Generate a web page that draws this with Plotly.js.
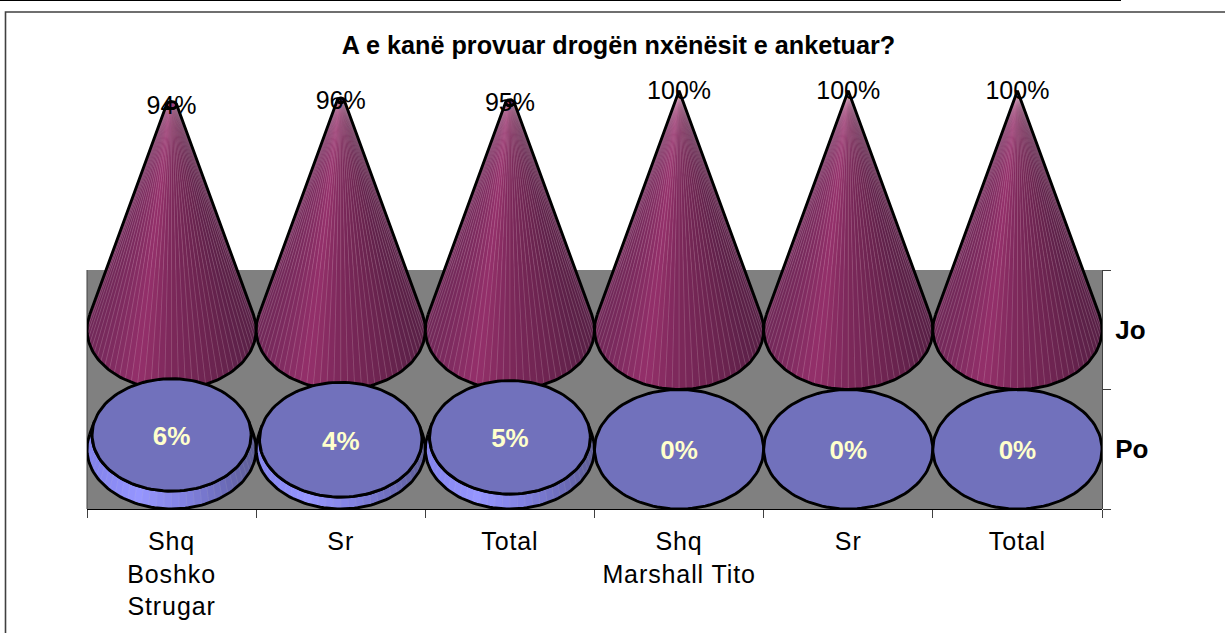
<!DOCTYPE html>
<html><head><meta charset="utf-8">
<script src="https://cdn.plot.ly/plotly-3.0.1.min.js"></script>
<style>html,body{margin:0;padding:0;background:#fff;overflow:hidden}
.xtick text{letter-spacing:0.9px}</style>
</head><body><div id="chart" style="width:1225px;height:633px"></div>
<script>
var chartTitle = 'A e kanë provuar drogën nxënësit e anketuar?';
var categoryLabels = ['Shq<br>Boshko<br>Strugar','Sr','Total','Shq<br>Marshall Tito','Sr','Total'];
var seriesLabels = ['Po','Jo'];
var poValues = [6,4,5,0,0,0];
var joValues = [94,96,95,100,100,100];

// Geometry of the 3D stack, in axis units: every band is 50 units tall, full cone is 100 tall.
var BASE_PO = 25, BASE_JO = 75, RY = 25, RX = 0.5, H = 100;
var ALPHA = Math.asin(RY / H);
var FACETS_JO = 44, FACETS_PO = 40, OUTLINE = 2.9;
var LABEL_DROP_JO = 1, LABEL_DROP_PO = 1.4;

function lerpColor(stops, t) {
  for (var i = 1; i < stops.length; i++) {
    if (t <= stops[i][0]) {
      var a = stops[i-1], b = stops[i], f = (t - a[0]) / (b[0] - a[0]);
      return 'rgb(' + [1,2,3].map(function(k){ return Math.round(a[k] + (b[k]-a[k])*f); }).join(',') + ')';
    }
  }
  var l = stops[stops.length-1];
  return 'rgb(' + l[1] + ',' + l[2] + ',' + l[3] + ')';
}
var joStops = [[0,112,40,88],[0.3,148,48,106],[0.5,124,40,90],[0.75,108,36,80],[1,88,32,70]];
var poStops = [[0,130,130,235],[0.3,150,150,255],[0.6,128,128,222],[0.85,105,105,180],[1,95,95,150]];

// point of an ellipse; theta in (0,pi) is the front (lower) half
function pt(cx, cy, s, th) { return [cx + RX*s*Math.cos(th), cy - RY*s*Math.sin(th)]; }

var traces = [];
function drawSolid(cx, base, v, n, stops, topFill, seam) {
  var sTop = 1 - v/H, yTop = base + v;
  if (v > 0) {
    var th0 = -ALPHA, th1 = Math.PI + ALPHA;
    var seamX = [], seamY = [];
    for (var i = 0; i < n; i++) {
      var a = th1 - (th1-th0)*i/n, b = th1 - (th1-th0)*(i+1)/n;
      var p1 = pt(cx, base, 1, a), p2 = pt(cx, base, 1, b), p3 = pt(cx, yTop, sTop, b), p4 = pt(cx, yTop, sTop, a);
      var c = lerpColor(stops, (1 + Math.cos((a+b)/2))/2);
      traces.push({type:'scatter', mode:'lines', x:[p1[0],p2[0],p3[0],p4[0],p1[0]], y:[p1[1],p2[1],p3[1],p4[1],p1[1]],
        fill:'toself', fillcolor:c, line:{color:c,width:0.6}, hoverinfo:'skip', showlegend:false});
      if (i > 0) { seamX.push(p1[0],p4[0],null); seamY.push(p1[1],p4[1],null); }
    }
    traces.push({type:'scatter', mode:'lines', x:seamX, y:seamY, line:{color:seam,width:0.8}, hoverinfo:'skip', showlegend:false});
    var ox = [], oy = [], m = 90, k, q;
    for (k = 0; k <= m; k++) { q = pt(cx, base, 1, th1-(th1-th0)*k/m); ox.push(q[0]); oy.push(q[1]); }
    if (sTop > 0) for (k = 0; k <= m; k++) { q = pt(cx, yTop, sTop, th0+(th1-th0)*k/m); ox.push(q[0]); oy.push(q[1]); }
    else { ox.push(cx); oy.push(yTop); }
    ox.push(ox[0]); oy.push(oy[0]);
    traces.push({type:'scatter', mode:'lines', x:ox, y:oy, line:{color:'#000',width:OUTLINE}, hoverinfo:'skip', showlegend:false});
  }
  if (sTop > 0) {
    var ex = [], ey = [];
    for (var j = 0; j <= 120; j++) { var e = pt(cx, yTop, sTop, 2*Math.PI*j/120); ex.push(e[0]); ey.push(e[1]); }
    traces.push({type:'scatter', mode:'lines', x:ex, y:ey, fill:'toself', fillcolor:topFill, line:{color:'#000',width:OUTLINE}, hoverinfo:'skip', showlegend:false});
  }
}
categoryLabels.forEach(function(_, i){ drawSolid(i+0.5, BASE_JO, joValues[i], FACETS_JO, joStops, '#A04078', 'rgba(255,225,240,0.22)'); });
categoryLabels.forEach(function(_, i){ drawSolid(i+0.5, BASE_PO, poValues[i], FACETS_PO, poStops, '#7171BC', 'rgba(255,255,255,0.10)'); });

var centers = categoryLabels.map(function(_, i){ return i+0.5; });
traces.push({type:'scatter', mode:'text', x:centers, y:joValues.map(function(v){ return BASE_JO+v-LABEL_DROP_JO; }),
  text:joValues.map(function(v){ return v+'%'; }), textposition:'middle center',
  textfont:{family:'Liberation Sans, Arial, sans-serif', size:25, color:'#000'}, cliponaxis:false, hoverinfo:'skip', showlegend:false});
traces.push({type:'scatter', mode:'text', x:centers, y:poValues.map(function(v){ return BASE_PO+v-LABEL_DROP_PO; }),
  text:poValues.map(function(v){ return '<b>'+v+'%</b>'; }), textposition:'middle center',
  textfont:{family:'Liberation Sans, Arial, sans-serif', size:26, color:'#FFFFCC'}, cliponaxis:false, hoverinfo:'skip', showlegend:false});
// carrier so the band axis is drawn
traces.push({type:'scatter', mode:'none', x:[0,6], y:[0,100], xaxis:'x', yaxis:'y2', hoverinfo:'skip', showlegend:false});

var L = 87, R = 1102, T0 = 60, T = 270, B = 509;
var bandShare = (B-T)/(B-T0);
function px(x){ return (x-L)/(R-L); }
function py(y){ return (B-y)/(B-T0); }
var family = 'Liberation Sans, Arial, sans-serif';

var layout = {
  width:1225, height:633, autosize:false,
  margin:{l:L, r:1225-R, t:T0, b:633-B, pad:0},
  paper_bgcolor:'#fff', plot_bgcolor:'rgba(0,0,0,0)', showlegend:false,
  title:{text:'<b>'+chartTitle+'</b>', xref:'container', yref:'container', x:618.5/1225, y:1-45/633, xanchor:'center', yanchor:'middle',
    font:{family:family, size:25.2, color:'#000'}},
  xaxis:{range:[0,6], tickmode:'array', tickvals:centers, ticktext:categoryLabels, ticks:'', showgrid:false, zeroline:false,
    showline:true, linecolor:'#000', linewidth:1, tickfont:{family:family,size:25,color:'#000'}, ticklabelstandoff:10, anchor:'y',
    minor:{tickmode:'array', tickvals:[0,1,2,3,4,5,6], ticks:'outside', ticklen:8, tickwidth:1, tickcolor:'#404040', showgrid:false}},
  yaxis:{range:[0,100/bandShare], visible:false, domain:[0,1], fixedrange:true},
  yaxis2:{domain:[0,bandShare], range:[0,100], side:'right', anchor:'x', tickmode:'array', tickvals:[BASE_PO,BASE_JO],
    ticktext:seriesLabels.map(function(s){return '<b>'+s+'</b>';}), ticks:'', showgrid:false, zeroline:false, showline:true,
    linecolor:'#404040', linewidth:1, tickfont:{family:family,size:26,color:'#000'}, ticklabelstandoff:7,
    minor:{tickmode:'array', tickvals:[0,50,100], ticks:'outside', ticklen:8, tickwidth:1, tickcolor:'#404040', showgrid:false}},
  shapes:[
    {type:'rect', layer:'below', xref:'paper', yref:'paper', x0:0, x1:1, y0:0, y1:bandShare, fillcolor:'#808080', line:{width:0}},
    {type:'line', xref:'paper', yref:'paper', x0:px(0), x1:px(1121), y0:py(0.5), y1:py(0.5), line:{color:'#000',width:1.2}},
    {type:'path', xref:'paper', yref:'paper', path:'M '+px(5.5)+' '+py(633)+' L '+px(5.5)+' '+py(12)+' L '+px(1225)+' '+py(12), line:{color:'#404040',width:1.6}},
    {type:'line', layer:'below', xref:'paper', yref:'paper', x0:0, x1:0, y0:0, y1:bandShare, line:{color:'#404040',width:1}}
  ]
};
Plotly.newPlot('chart', traces, layout, {displayModeBar:false, staticPlot:true});
</script></body></html>
